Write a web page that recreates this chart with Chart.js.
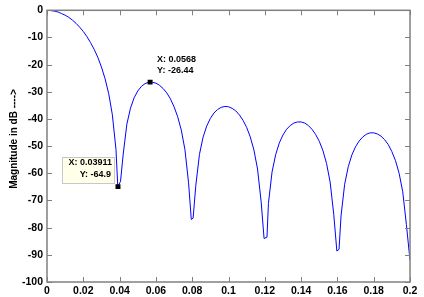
<!DOCTYPE html>
<html>
<head>
<meta charset="utf-8">
<script src="https://cdn.jsdelivr.net/npm/chart.js@4.4.1/dist/chart.umd.min.js"></script>
<style>
html,body{margin:0;padding:0;background:#fff;}
#wrap{width:424px;height:297px;position:relative;}
</style>
</head>
<body>
<div id="wrap"><canvas id="c" width="424" height="297"></canvas></div>
<script>
// ---- data ----
const freqs = [
  0.000,0.002,0.004,0.006,0.008,0.010,0.012,0.014,0.016,0.018,
  0.020,0.022,0.024,0.026,0.028,0.030,0.032,0.034,0.036,0.038,
  0.039,0.0405,
  0.042,0.044,0.046,0.048,0.050,0.052,0.054,0.056,0.0568,0.058,
  0.060,0.062,0.064,0.066,0.068,0.070,0.072,0.074,0.076,0.078,
  0.0795,0.0805,
  0.082,0.084,0.086,0.088,0.090,0.092,0.094,0.096,0.098,0.100,
  0.102,0.104,0.106,0.108,0.110,0.112,0.114,0.116,0.118,
  0.1196,0.1212,
  0.122,0.124,0.126,0.128,0.130,0.132,0.134,0.136,0.138,0.140,
  0.142,0.144,0.146,0.148,0.150,0.152,0.154,0.156,0.158,
  0.1597,0.1609,
  0.162,0.164,0.166,0.168,0.170,0.172,0.174,0.176,0.178,0.180,
  0.182,0.184,0.186,0.188,0.190,0.192,0.194,0.196,0.198,0.200
];
const magDb = [
  0,-0.1,-0.3,-0.6,-1.2,-1.8,-2.6,-3.6,-4.8,-6.2,
  -7.8,-9.7,-11.9,-14.4,-17.3,-20.9,-25.2,-30.7,-38.4,-51.2,
  -64.9,-63.0,
  -52.9,-41.9,-36.0,-32.2,-29.7,-28.0,-27.0,-26.5,-26.44,-26.5,
  -26.8,-27.6,-28.8,-30.4,-32.6,-35.5,-39.2,-44.1,-51.3,-63.5,
  -77.0,-76.5,
  -64.4,-53.0,-46.7,-42.6,-39.8,-37.8,-36.5,-35.7,-35.4,-35.5,
  -36.1,-37.0,-38.5,-40.5,-43.1,-46.6,-51.4,-58.4,-70.5,
  -84.0,-83.5,
  -71.1,-59.5,-53.1,-48.8,-45.9,-43.8,-42.4,-41.5,-41.1,-41.1,
  -41.5,-42.4,-43.8,-45.7,-48.2,-51.6,-56.3,-63.2,-75.2,
  -88.6,-88.0,
  -75.7,-64.0,-57.5,-53.2,-50.2,-48.1,-46.6,-45.6,-45.1,-45.1,
  -45.5,-46.3,-47.6,-49.4,-52.0,-55.3,-60.0,-66.8,-78.8,-92.0
];
const tipX = [0.03911, 0.0568];
const tipY = [-64.9, -26.44];
const xTicks = [0,0.02,0.04,0.06,0.08,0.1,0.12,0.14,0.16,0.18,0.2];
const xTickLabels = ['0','0.02','0.04','0.06','0.08','0.1','0.12','0.14','0.16','0.18','0.2'];
const yTicks = [0,-10,-20,-30,-40,-50,-60,-70,-80,-90,-100];
const yTickLabels = ['0','-10','-20','-30','-40','-50','-60','-70','-80','-90','-100'];
const yTitle = 'Magnitude in dB ---->';

// ---- styling ----
const FONT = '"Liberation Sans", Arial, sans-serif';
const FRAME = '#808080';

const linePts = freqs.map((f,i)=>({x:f, y:magDb[i]}));
const tipPts = tipX.map((f,i)=>({x:f, y:tipY[i]}));

const framePlugin = {
  id:'frame',
  afterDatasetsDraw(chart){
    const {ctx, chartArea:a, scales:{x:xs, y:ys}} = chart;
    ctx.save();
    ctx.strokeStyle = FRAME;
    ctx.lineWidth = 1;
    const L=5;
    ctx.beginPath();
    xTicks.forEach(v=>{
      const px = Math.round(xs.getPixelForValue(v))+0.5;
      ctx.moveTo(px,a.top); ctx.lineTo(px,a.top+L);
      ctx.moveTo(px,a.bottom); ctx.lineTo(px,a.bottom-L);
    });
    yTicks.forEach(v=>{
      const py = Math.round(ys.getPixelForValue(v))+0.5;
      ctx.moveTo(a.left,py); ctx.lineTo(a.left+L,py);
      ctx.moveTo(a.right,py); ctx.lineTo(a.right-L,py);
    });
    ctx.stroke();
    ctx.lineWidth = 1.5;
    ctx.strokeRect(a.left, a.top, a.right-a.left, a.bottom-a.top);

    // data tips
    ctx.font = 'bold 9px ' + FONT;
    ctx.fillStyle = '#000';
    ctx.textBaseline = 'middle';
    // tip 0 : boxed, to the upper-left of the marker
    let mx = xs.getPixelForValue(tipX[0]), my = ys.getPixelForValue(tipY[0]);
    ctx.fillStyle = '#ffffea';
    ctx.fillRect(mx-56, my-29.5, 52, 26);
    ctx.strokeStyle = '#c8c8c8';
    ctx.lineWidth = 1;
    ctx.strokeRect(Math.round(mx-56)+0.5, Math.round(my-29.5)+0.5, 52, 26);
    ctx.fillStyle = '#000';
    ctx.textAlign = 'right';
    ctx.fillText('X: ' + tipX[0], mx-6, my-24);
    ctx.fillText('Y: ' + tipY[0], mx-7, my-12);
    // tip 1 : text to the upper-right of the marker
    mx = xs.getPixelForValue(tipX[1]); my = ys.getPixelForValue(tipY[1]);
    ctx.textAlign = 'left';
    ctx.fillText('X: ' + tipX[1], mx+7, my-23);
    ctx.fillText('Y: ' + tipY[1], mx+7, my-11.5);

    // y-axis title
    ctx.save();
    ctx.translate(14, 139);
    ctx.rotate(-Math.PI/2);
    ctx.textAlign = 'center';
    ctx.font = 'bold 10px ' + FONT;
    ctx.fillText(yTitle, 0, 0);
    ctx.restore();
    ctx.restore();
  }
};

new Chart(document.getElementById('c'), {
  type:'scatter',
  data:{
    datasets:[
      {
        type:'line',
        data: linePts,
        borderColor:'#0000ff',
        borderWidth:1,
        pointRadius:0,
        tension:0,
        fill:false,
        order:2
      },
      {
        type:'scatter',
        data: tipPts,
        pointStyle:'rect',
        pointRadius:3.5,
        backgroundColor:'#000',
        borderColor:'#000',
        borderWidth:0,
        order:1
      }
    ]
  },
  options:{
    responsive:false,
    animation:false,
    devicePixelRatio:1,
    events:[],
    layout:{padding:{left:0,top:10,right:14,bottom:0}},
    plugins:{legend:{display:false}, tooltip:{enabled:false}},
    scales:{
      x:{
        type:'linear', min:0, max:0.2,
        afterBuildTicks(s){ s.ticks = xTicks.map(v=>({value:v})); },
        afterFit(s){ s.height = 15; },
        grid:{display:false, drawTicks:false},
        border:{display:false},
        ticks:{
          padding:3,
          color:'#000',
          maxRotation:0,
          autoSkip:false,
          font:{family:FONT, size:10.5, weight:'bold'},
          callback:(v,i)=>xTickLabels[i]
        }
      },
      y:{
        type:'linear', min:-100, max:0,
        afterBuildTicks(s){ s.ticks = yTicks.map(v=>({value:v})); },
        afterFit(s){ s.width = 47; },
        grid:{display:false, drawTicks:false},
        border:{display:false},
        ticks:{
          padding:4,
          color:'#000',
          autoSkip:false,
          font:{family:FONT, size:10.5, weight:'bold'},
          callback:(v,i)=>yTickLabels[i]
        }
      }
    }
  },
  plugins:[framePlugin]
});
</script>
</body>
</html>
